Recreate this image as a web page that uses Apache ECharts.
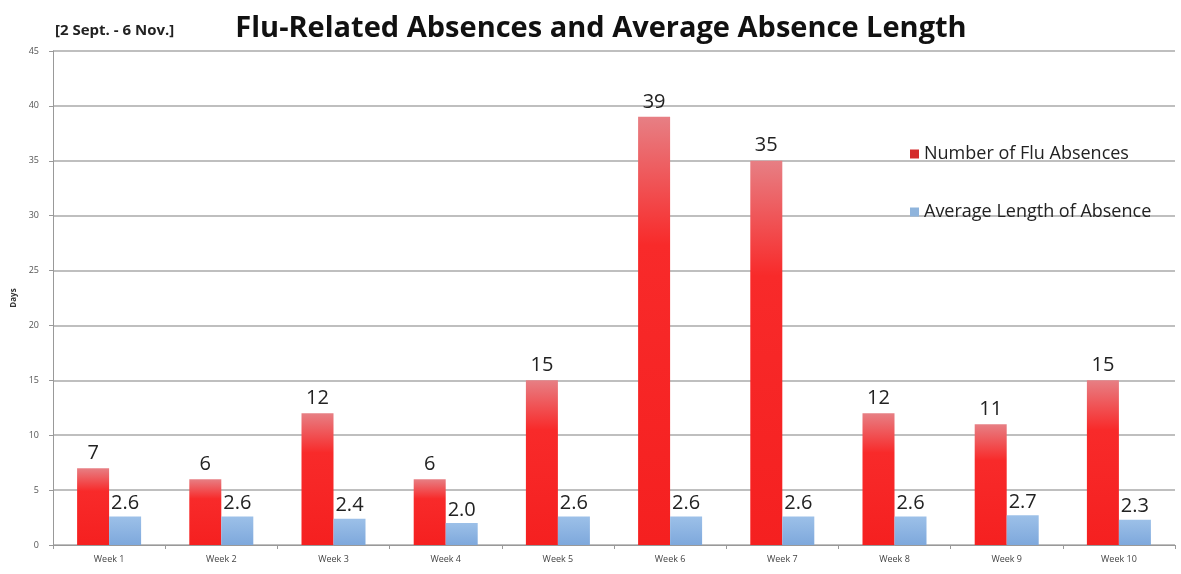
<!DOCTYPE html>
<html><head><meta charset="utf-8">
<script src="https://cdn.jsdelivr.net/npm/echarts@6/dist/echarts.min.js"></script>
<style>html,body{margin:0;padding:0;background:#fff}#c{width:1181px;height:574px}</style>
</head><body><div id="c"></div>
<script>
const categories = ['Week 1','Week 2','Week 3','Week 4','Week 5','Week 6','Week 7','Week 8','Week 9','Week 10'];
const fluAbsences = [7, 6, 12, 6, 15, 39, 35, 12, 11, 15];
const avgLength = [2.6, 2.6, 2.4, 2.0, 2.6, 2.6, 2.6, 2.6, 2.7, 2.3];
const yTicks = {min: 0, max: 45, interval: 5};

const chart = echarts.init(document.getElementById('c'));
const FONT = 'Open Sans';
chart.setOption({
  animation: false,
  title: [
    {text: 'Flu-Related Absences and Average Absence Length', left: 596, textAlign: 'center', top: 9,
     textStyle: {fontFamily: FONT, fontSize: 29, fontWeight: 'bold', color: '#111'}},
    {text: '[2 Sept. - 6 Nov.]', left: 50, top: 18,
     textStyle: {fontFamily: FONT, fontSize: 15, fontWeight: 'bold', color: '#222'}}
  ],
  legend: {
    orient: 'vertical', left: 905, top: 140, itemGap: 40, itemWidth: 9, itemHeight: 9,
    textStyle: {fontFamily: FONT, fontSize: 18, color: '#222'},
    data: [
      {name: 'Number of Flu Absences', icon: 'rect', itemStyle: {color: '#d42a2a'}},
      {name: 'Average Length of Absence', icon: 'rect', itemStyle: {color: '#8fb4dc'}}
    ]
  },
  grid: {left: 53, right: 6, top: 51, bottom: 29},
  xAxis: {
    type: 'category', data: categories,
    axisLine: {lineStyle: {color: '#999'}},
    axisTick: {show: true, alignWithLabel: false, length: 4, lineStyle: {color: '#999'}},
    axisLabel: {fontFamily: FONT, fontSize: 9, color: '#444', margin: 10}
  },
  yAxis: {
    type: 'value', min: yTicks.min, max: yTicks.max, interval: yTicks.interval,
    name: 'Days', nameLocation: 'middle', nameGap: 34, nameRotate: 90,
    nameTextStyle: {fontFamily: FONT, fontSize: 8, fontWeight: 'bold', color: '#333'},
    axisLine: {show: true, lineStyle: {color: '#999'}},
    axisTick: {show: true, length: 4, lineStyle: {color: '#999'}},
    axisLabel: {fontFamily: FONT, fontSize: 9, color: '#555', margin: 14},
    splitLine: {lineStyle: {color: '#aaaaaa', width: 1.5}}
  },
  series: [
    {
      name: 'Number of Flu Absences', type: 'bar', data: fluAbsences,
      barWidth: 32, barGap: '0%',
      itemStyle: {color: new echarts.graphic.LinearGradient(0, 0, 0, 1, [
        {offset: 0, color: '#e77f84'}, {offset: 0.3, color: '#f82a2a'}, {offset: 1, color: '#f52020'}])},
      label: {show: true, position: 'top', distance: 5, fontFamily: FONT, fontSize: 20, color: '#222'}
    },
    {
      name: 'Average Length of Absence', type: 'bar', data: avgLength,
      barWidth: 32,
      itemStyle: {color: new echarts.graphic.LinearGradient(0, 0, 0, 1, [
        {offset: 0, color: '#9cc0e8'}, {offset: 1, color: '#7ea8dc'}])},
      label: {show: true, position: 'top', distance: 3, fontFamily: FONT, fontSize: 20, color: '#222',
        formatter: p => p.value.toFixed(1)}
    }
  ]
});
</script></body></html>
